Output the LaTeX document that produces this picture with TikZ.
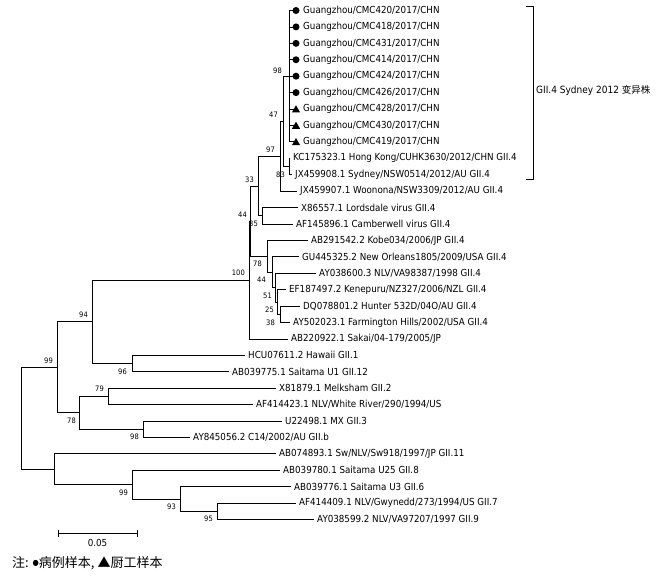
\documentclass[tikz,border=0pt]{standalone}
\usepackage{fontspec}
\usetikzlibrary{shapes.geometric}
\newfontfamily\lab[FakeStretch=0.9]{DejaVu Sans}
\newfontfamily\cjk{Noto Sans CJK SC}
\begin{document}
\begin{tikzpicture}[x=1pt,y=-1pt,
  leaf/.style={anchor=west,inner sep=0pt,font=\lab\fontsize{9.7}{11}\selectfont},
  bs/.style={anchor=east,inner sep=0pt,font=\lab\fontsize{7.5}{9}\selectfont},
  br/.style={line width=0.8pt,black},
  dot/.style={circle,fill=black,inner sep=0pt,minimum size=7pt},
  tri/.style={regular polygon,regular polygon sides=3,fill=black,inner sep=0pt,minimum size=9.5pt}
]
\useasboundingbox (0,0) rectangle (664,576);
% internal nodes
\coordinate (n98) at (289,76.18);
\coordinate (n83) at (289,166.49);
\coordinate (n47) at (283,121.34);
\coordinate (n97) at (280,156.23);
\coordinate (n35) at (262,215.75);
\coordinate (n33) at (258,185.99);
\coordinate (n38) at (280,314.27);
\coordinate (n25) at (277,301.96);
\coordinate (n51) at (275,287.59);
\coordinate (n44b) at (272,272.2);
\coordinate (n78) at (267,256.29);
\coordinate (n44) at (250,221.14);
\coordinate (n100) at (249,280.02);
\coordinate (n96) at (132,363.53);
\coordinate (n94) at (92,321.78);
\coordinate (n79) at (108,396.37);
\coordinate (n98b) at (143,429.21);
\coordinate (n78b) at (79,412.79);
\coordinate (n99a) at (57,367.29);
\coordinate (n95) at (217,511.31);
\coordinate (n93) at (180,498.99);
\coordinate (n99c) at (132,484.63);
\coordinate (nX) at (54,469.24);
\coordinate (root) at (21,418.27);
% leaves
\node[leaf] (L1) at (303,10.5) {Guangzhou/CMC420/2017/CHN};
\node[leaf] (L2) at (303,26.92) {Guangzhou/CMC418/2017/CHN};
\node[leaf] (L3) at (303,43.34) {Guangzhou/CMC431/2017/CHN};
\node[leaf] (L4) at (303,59.76) {Guangzhou/CMC414/2017/CHN};
\node[leaf] (L5) at (303,76.18) {Guangzhou/CMC424/2017/CHN};
\node[leaf] (L6) at (303,92.6) {Guangzhou/CMC426/2017/CHN};
\node[leaf] (L7) at (303,109.02) {Guangzhou/CMC428/2017/CHN};
\node[leaf] (L8) at (303,125.44) {Guangzhou/CMC430/2017/CHN};
\node[leaf] (L9) at (303,141.86) {Guangzhou/CMC419/2017/CHN};
\node[leaf] (L10) at (293,158.28) {KC175323.1 Hong Kong/CUHK3630/2012/CHN GII.4};
\node[leaf] (L11) at (295,174.7) {JX459908.1 Sydney/NSW0514/2012/AU GII.4};
\node[leaf] (L12) at (300,191.12) {JX459907.1 Woonona/NSW3309/2012/AU GII.4};
\node[leaf] (L13) at (301,207.54) {X86557.1 Lordsdale virus GII.4};
\node[leaf] (L14) at (296,223.96) {AF145896.1 Camberwell virus GII.4};
\node[leaf] (L15) at (311,240.38) {AB291542.2 Kobe034/2006/JP GII.4};
\node[leaf] (L16) at (302,256.8) {GU445325.2 New Orleans1805/2009/USA GII.4};
\node[leaf] (L17) at (319,273.22) {AY038600.3 NLV/VA98387/1998 GII.4};
\node[leaf] (L18) at (289,289.64) {EF187497.2 Kenepuru/NZ327/2006/NZL GII.4};
\node[leaf] (L19) at (303,306.06) {DQ078801.2 Hunter 532D/04O/AU GII.4};
\node[leaf] (L20) at (293,322.48) {AY502023.1 Farmington Hills/2002/USA GII.4};
\node[leaf] (L21) at (291,338.9) {AB220922.1 Sakai/04-179/2005/JP};
\node[leaf] (L22) at (248,355.32) {HCU07611.2 Hawaii GII.1};
\node[leaf] (L23) at (232,371.74) {AB039775.1 Saitama U1 GII.12};
\node[leaf] (L24) at (279,388.16) {X81879.1 Melksham GII.2};
\node[leaf] (L25) at (256,404.58) {AF414423.1 NLV/White River/290/1994/US};
\node[leaf] (L26) at (285,421) {U22498.1 MX GII.3};
\node[leaf] (L27) at (193,437.42) {AY845056.2 C14/2002/AU GII.b};
\node[leaf] (L28) at (279,453.84) {AB074893.1 Sw/NLV/Sw918/1997/JP GII.11};
\node[leaf] (L29) at (283,470.26) {AB039780.1 Saitama U25 GII.8};
\node[leaf] (L30) at (294,486.68) {AB039776.1 Saitama U3 GII.6};
\node[leaf] (L31) at (299,503.1) {AF414409.1 NLV/Gwynedd/273/1994/US GII.7};
\node[leaf] (L32) at (317,519.52) {AY038599.2 NLV/VA97207/1997 GII.9};
% branches
\foreach \i in {1,...,9} {\draw[br] (n98) |- ([xshift=-7pt]L\i.west);}
\draw[br] (n83) |- ([xshift=-3pt]L10.west);
\draw[br] (n83) |- ([xshift=-3pt]L11.west);
\draw[br] (n47) |- (n98);
\draw[br] (n47) |- (n83);
\draw[br] (n97) |- (n47);
\draw[br] (n97) |- ([xshift=-3pt]L12.west);
\draw[br] (n33) |- (n97);
\draw[br] (n33) |- (n35);
\draw[br] (n35) |- ([xshift=-3pt]L13.west);
\draw[br] (n35) |- ([xshift=-3pt]L14.west);
\draw[br] (n44) |- (n33);
\draw[br] (n44) |- (n78);
\draw[br] (n78) |- ([xshift=-3pt]L15.west);
\draw[br] (n78) |- (n44b);
\draw[br] (n44b) |- ([xshift=-3pt]L16.west);
\draw[br] (n44b) |- (n51);
\draw[br] (n51) |- ([xshift=-3pt]L17.west);
\draw[br] (n51) |- (n25);
\draw[br] (n25) |- ([xshift=-3pt]L18.west);
\draw[br] (n25) |- (n38);
\draw[br] (n38) |- ([xshift=-3pt]L19.west);
\draw[br] (n38) |- ([xshift=-3pt]L20.west);
\draw[br] (n100) |- (n44);
\draw[br] (n100) |- ([xshift=-3pt]L21.west);
\draw[br] (n94) |- (n100);
\draw[br] (n94) |- (n96);
\draw[br] (n96) |- ([xshift=-3pt]L22.west);
\draw[br] (n96) |- ([xshift=-3pt]L23.west);
\draw[br] (n99a) |- (n94);
\draw[br] (n99a) |- (n78b);
\draw[br] (n78b) |- (n79);
\draw[br] (n78b) |- (n98b);
\draw[br] (n79) |- ([xshift=-3pt]L24.west);
\draw[br] (n79) |- ([xshift=-3pt]L25.west);
\draw[br] (n98b) |- ([xshift=-3pt]L26.west);
\draw[br] (n98b) |- ([xshift=-3pt]L27.west);
\draw[br] (root) |- (n99a);
\draw[br] (root) |- (nX);
\draw[br] (nX) |- ([xshift=-3pt]L28.west);
\draw[br] (nX) |- (n99c);
\draw[br] (n99c) |- ([xshift=-3pt]L29.west);
\draw[br] (n99c) |- (n93);
\draw[br] (n93) |- ([xshift=-3pt]L30.west);
\draw[br] (n93) |- (n95);
\draw[br] (n95) |- ([xshift=-3pt]L31.west);
\draw[br] (n95) |- ([xshift=-3pt]L32.west);
% markers
\node[dot] (M1) at (296,10.5) {};
\node[dot] (M2) at (296,26.92) {};
\node[dot] (M3) at (296,43.34) {};
\node[dot] (M4) at (296,59.76) {};
\node[dot] (M5) at (296,76.18) {};
\node[dot] (M6) at (296,92.6) {};
\node[tri] (M7) at (296,110) {};
\node[tri] (M8) at (296,126.4) {};
\node[tri] (M9) at (296,142.8) {};
% bootstrap values
\node[bs] (b98) at (282,71) {98};
\node[bs] (b83) at (285,175) {83};
\node[bs] (b47) at (278,115) {47};
\node[bs] (b97) at (275,150) {97};
\node[bs] (b35) at (258,224) {35};
\node[bs] (b33) at (254,180) {33};
\node[bs] (b44) at (247,215) {44};
\node[bs] (b78) at (262,264) {78};
\node[bs] (b44b) at (266,280) {44};
\node[bs] (b51) at (272,296) {51};
\node[bs] (b25) at (274,310) {25};
\node[bs] (b38) at (275,323) {38};
\node[bs] (b100) at (245,273) {100};
\node[bs] (b96) at (127,372) {96};
\node[bs] (b94) at (88,315) {94};
\node[bs] (b79) at (104,389) {79};
\node[bs] (b78b) at (76,421) {78};
\node[bs] (b98b) at (139,437) {98};
\node[bs] (b99a) at (53,361) {99};
\node[bs] (b99c) at (128,493) {99};
\node[bs] (b93) at (176,507) {93};
\node[bs] (b95) at (213,519) {95};
% bracket
\coordinate (k1) at (533,6);
\coordinate (k2) at (533,179);
\draw[br] ([xshift=-7pt]k1) -- (k1) -- (k2) -- ([xshift=-7pt]k2);
\node[anchor=west,inner sep=0pt] (kl) at (536,91) {\lab\fontsize{10}{12}\selectfont GII.4 Sydney 2012 \cjk\fontsize{9.5}{12}\selectfont 变异株};
% scale bar
\coordinate (s1) at (58,533);
\coordinate (s2) at (137,533);
\draw[br] (s1) -- (s2);
\draw[br] ([yshift=-3.5pt]s1) -- ([yshift=3.5pt]s1);
\draw[br] ([yshift=-3.5pt]s2) -- ([yshift=3.5pt]s2);
\node[inner sep=0pt,font=\lab\fontsize{9.7}{11}\selectfont] (sl) at (97.5,543) {0.05};
% footnote
\node[anchor=west,inner sep=0pt,font=\cjk\fontsize{13}{15}\selectfont] (fn) at (12,563) {注: \raisebox{1.5pt}{\lab\fontsize{8}{9}\selectfont ●}病例样本, ▲厨工样本};
\end{tikzpicture}
\end{document}
